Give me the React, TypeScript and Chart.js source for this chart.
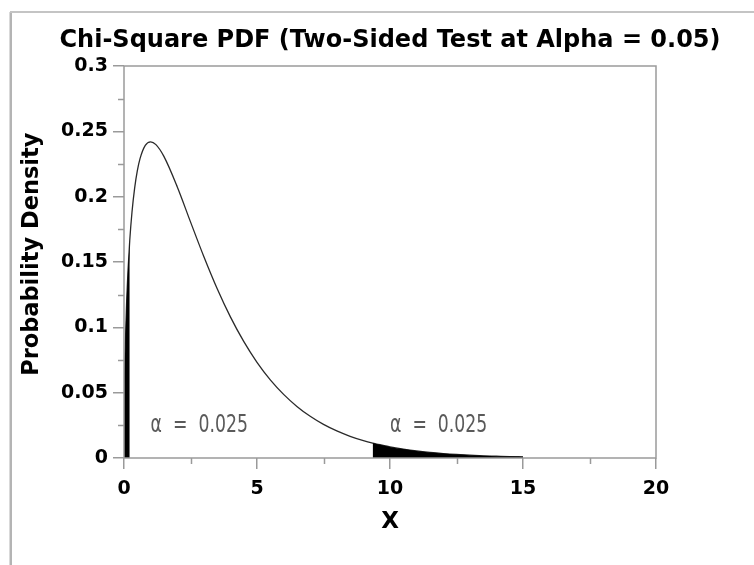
import React, { useEffect, useRef } from "react";
import { Chart, registerables } from "chart.js";

Chart.register(...registerables);

const TITLE = "Chi-Square PDF (Two-Sided Test at Alpha = 0.05)";
const X_TITLE = "X";
const Y_TITLE = "Probability Density";

const X_VALUES = [
  0, 0.02, 0.05, 0.1, 0.15, 0.2158, 0.3, 0.4, 0.5, 0.6, 0.8, 1.0, 1.2, 1.5, 2, 2.5, 3, 3.5, 4, 4.5, 5,
  5.5, 6, 6.5, 7, 7.5, 8, 8.5, 9, 9.348, 9.5, 10, 10.5, 11, 11.5, 12, 12.5, 13, 13.5, 14, 14.5, 15,
];
const PDF_VALUES = [
  0, 0.0559, 0.087, 0.12, 0.1433, 0.1664, 0.1881, 0.2066, 0.2197, 0.2289, 0.2392, 0.242, 0.2398, 0.2308,
  0.2076, 0.1807, 0.1542, 0.1297, 0.108, 0.0892, 0.0732, 0.0598, 0.0487, 0.0395, 0.0319, 0.0257, 0.0207,
  0.0166, 0.0133, 0.0114, 0.0107, 0.0085, 0.0068, 0.0054, 0.0043, 0.0034, 0.0027, 0.0022, 0.0017, 0.0014,
  0.0011, 0.0009,
];

const LEFT_TAIL_X = [0, 0.02, 0.05, 0.1, 0.15, 0.2158];
const LEFT_TAIL_Y = [0, 0.0559, 0.087, 0.12, 0.1433, 0.1664];
const RIGHT_TAIL_X = [9.348, 9.5, 10, 10.5, 11, 11.5, 12, 12.5, 13, 13.5, 14, 14.5, 15];
const RIGHT_TAIL_Y = [0.0114, 0.0107, 0.0085, 0.0068, 0.0054, 0.0043, 0.0034, 0.0027, 0.0022, 0.0017, 0.0014, 0.0011, 0.0009];

const X_TICKS = [0, 5, 10, 15, 20];
const X_TICK_LABELS = ["0", "5", "10", "15", "20"];
const X_MINOR_TICKS = [2.5, 7.5, 12.5, 17.5];
const Y_TICKS = [0, 0.05, 0.1, 0.15, 0.2, 0.25, 0.3];
const Y_TICK_LABELS = ["0", "0.05", "0.1", "0.15", "0.2", "0.25", "0.3"];
const Y_MINOR_TICKS = [0.025, 0.075, 0.125, 0.175, 0.225, 0.275];

const ANNOTATION_X = [1, 10];
const ANNOTATION_Y = [0.02, 0.02];
const ANNOTATION_TEXT = ["\u03B1  =  0.025", "\u03B1  =  0.025"];

const FONT = "'DejaVu Sans', 'Liberation Sans', Arial, sans-serif";
const AXIS_GRAY = "#9a9a9a";

const pts = (xs: number[], ys: number[]) => xs.map((x, i) => ({ x, y: ys[i] }));

const decorPlugin = {
  id: "decor",
  beforeDraw(chart: any) {
    const ctx = chart.ctx;
    ctx.save();
    ctx.fillStyle = "#ffffff";
    ctx.fillRect(0, 0, chart.width, chart.height);
    // outer frame (left and top)
    ctx.strokeStyle = "#b4b4b4";
    ctx.lineWidth = 2.5;
    ctx.beginPath();
    ctx.moveTo(10.75, chart.height);
    ctx.lineTo(10.75, 12);
    ctx.stroke();
    ctx.lineWidth = 2;
    ctx.strokeStyle = "#c4c4c4";
    ctx.beginPath();
    ctx.moveTo(10, 12);
    ctx.lineTo(chart.width, 12);
    ctx.stroke();
    ctx.restore();
  },
  afterDraw(chart: any) {
    const ctx = chart.ctx;
    const { left, right, top, bottom } = chart.chartArea;
    const xs = chart.scales.x;
    const ys = chart.scales.y;
    ctx.save();
    // plot box
    ctx.strokeStyle = AXIS_GRAY;
    ctx.lineWidth = 1.5;
    ctx.strokeRect(left, top, right - left, bottom - top);
    // minor ticks
    ctx.beginPath();
    Y_MINOR_TICKS.forEach((v) => {
      const py = Math.round(ys.getPixelForValue(v)) + 0.5;
      ctx.moveTo(left - 6, py);
      ctx.lineTo(left, py);
    });
    X_MINOR_TICKS.forEach((v) => {
      const px = Math.round(xs.getPixelForValue(v)) + 0.5;
      ctx.moveTo(px, bottom);
      ctx.lineTo(px, bottom + 6);
    });
    ctx.stroke();
    // annotations
    ctx.fillStyle = "#5a5a5a";
    ctx.font = `24px ${FONT}`;
    ctx.textAlign = "left";
    ctx.textBaseline = "alphabetic";
    ANNOTATION_TEXT.forEach((t, i) => {
      const px = xs.getPixelForValue(ANNOTATION_X[i]);
      const py = ys.getPixelForValue(ANNOTATION_Y[i]);
      ctx.save();
      ctx.translate(px, py);
      ctx.scale(0.72, 1);
      ctx.fillText(t, 0, 0);
      ctx.restore();
    });
    // title
    ctx.fillStyle = "#000000";
    ctx.font = `bold 24px ${FONT}`;
    ctx.textAlign = "center";
    ctx.fillText(TITLE, (left + right) / 2, 47);
    ctx.restore();
  },
};

export default function App() {
  const canvasRef = useRef<HTMLCanvasElement | null>(null);

  useEffect(() => {
    const canvas = canvasRef.current;
    if (!canvas) return;
    const chart = new Chart(canvas, {
      type: "line",
      data: {
        datasets: [
          {
            label: "left tail",
            data: pts(LEFT_TAIL_X, LEFT_TAIL_Y),
            borderWidth: 0,
            borderColor: "#000",
            backgroundColor: "#000",
            fill: "origin",
            pointRadius: 0,
            cubicInterpolationMode: "monotone",
          },
          {
            label: "right tail",
            data: pts(RIGHT_TAIL_X, RIGHT_TAIL_Y),
            borderWidth: 0,
            borderColor: "#000",
            backgroundColor: "#000",
            fill: "origin",
            pointRadius: 0,
            cubicInterpolationMode: "monotone",
          },
          {
            label: "pdf",
            data: pts(X_VALUES, PDF_VALUES),
            borderWidth: 1.3,
            borderColor: "#2a2a2a",
            fill: false,
            pointRadius: 0,
            cubicInterpolationMode: "monotone",
          },
        ],
      },
      options: {
        animation: false,
        responsive: false,
        devicePixelRatio: 1,
        layout: { padding: { top: 66, right: 98, left: 0, bottom: 0 } },
        plugins: {
          legend: { display: false },
          tooltip: { enabled: false },
          title: { display: false },
        },
        scales: {
          x: {
            type: "linear",
            min: 0,
            max: 20,
            afterFit: (s: any) => {
              s.height = 107;
            },
            afterBuildTicks: (s: any) => {
              s.ticks = X_TICKS.map((v) => ({ value: v }));
            },
            ticks: {
              autoSkip: false,
              maxRotation: 0,
              padding: 9,
              color: "#000",
              font: { family: FONT, size: 19, weight: "bold" },
              callback: (_v: any, i: number) => X_TICK_LABELS[i],
            },
            grid: {
              drawOnChartArea: false,
              drawTicks: true,
              tickLength: 11,
              color: AXIS_GRAY,
              lineWidth: 1.5,
            },
            border: { display: false },
            title: {
              display: true,
              text: X_TITLE,
              color: "#000",
              font: { family: FONT, size: 23, weight: "bold" },
              padding: { top: 0, bottom: 29 },
            },
          },
          y: {
            type: "linear",
            min: 0,
            max: 0.3,
            afterFit: (s: any) => {
              s.width = 124;
            },
            afterBuildTicks: (s: any) => {
              s.ticks = Y_TICKS.map((v) => ({ value: v }));
            },
            ticks: {
              autoSkip: false,
              padding: 5,
              color: "#000",
              font: { family: FONT, size: 19, weight: "bold" },
              callback: (_v: any, i: number) => Y_TICK_LABELS[i],
            },
            grid: {
              drawOnChartArea: false,
              drawTicks: true,
              tickLength: 11,
              color: AXIS_GRAY,
              lineWidth: 1.5,
            },
            border: { display: false },
            title: {
              display: true,
              text: "  " + Y_TITLE,
              color: "#000",
              font: { family: FONT, size: 22.5, weight: "bold" },
              padding: { top: 19, bottom: 0 },
            },
          },
        },
      },
      plugins: [decorPlugin],
    });
    return () => chart.destroy();
  }, []);

  return (
    <canvas
      ref={canvasRef}
      width={754}
      height={565}
      style={{ position: "absolute", left: 0, top: 0, width: 754, height: 565, display: "block" }}
    />
  );
}
